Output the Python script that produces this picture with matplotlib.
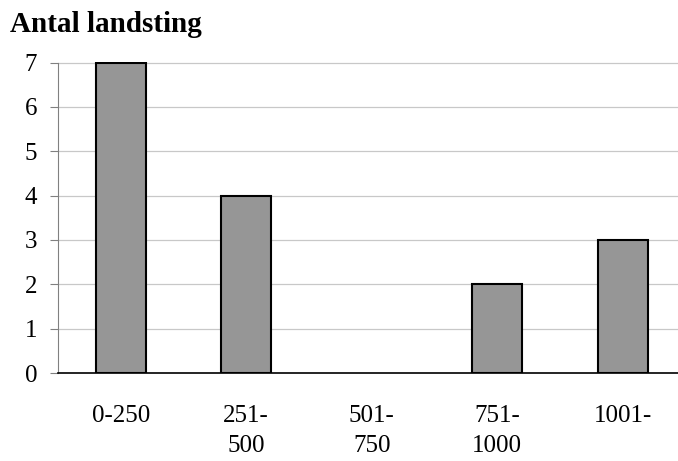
import numpy as np
import matplotlib
matplotlib.use("Agg")
import matplotlib.pyplot as plt

categories = ["0-250", "251-\n500", "501-\n750", "751-\n1000", "1001-"]
counts = [7, 4, 0, 2, 3]
title = "Antal landsting"

plt.rcParams['font.family'] = ['Liberation Serif', 'DejaVu Serif']

fig = plt.figure(figsize=(6.78, 4.61), dpi=100)
# plot area runs past the right edge of the picture, as in the original
ax = fig.add_axes([58 / 678, 88 / 461, 627.5 / 678, 310.5 / 461])

x = np.arange(len(categories))
vals = np.array(counts, dtype=float)
shown = vals > 0  # empty class draws nothing
ax.bar(x[shown], vals[shown], width=0.4, color="#969696", edgecolor="black",
       linewidth=1.5, zorder=3)

ax.set_xlim(-0.5, len(categories) - 0.5)
ax.set_ylim(0, 7)
ax.set_yticks(range(0, 8))
ax.yaxis.grid(True, color="#c8c8c8", linewidth=0.9, zorder=0)

ax.set_xticks(x)
ax.set_xticklabels(categories, fontsize=18, linespacing=1.5, va="top")
ax.tick_params(axis="x", length=0, pad=23)
ax.tick_params(axis="y", length=6, width=0.8, color="#808080", labelsize=18, pad=9)

for s in ["top", "right"]:
    ax.spines[s].set_visible(False)
ax.spines["left"].set_color("#808080")
ax.spines["left"].set_linewidth(0.8)
ax.spines["bottom"].set_color("black")
ax.spines["bottom"].set_linewidth(1.2)
ax.spines["bottom"].set_zorder(4)

fig.text(10 / 678, 1 - 24 / 461, title, fontsize=21, fontweight="bold", va="center", ha="left")

fig.savefig("out.png", dpi=100)
